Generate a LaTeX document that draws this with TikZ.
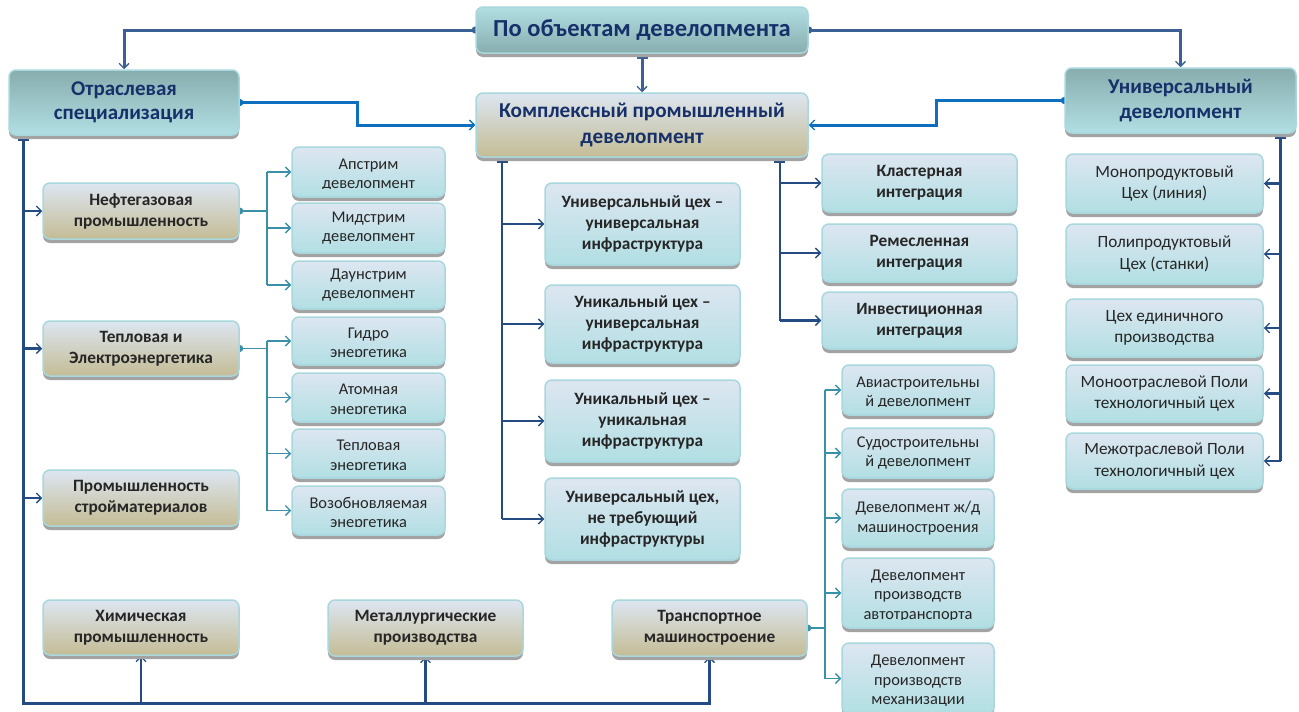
\documentclass[tikz,border=0pt]{standalone}
\usepackage{fontspec}
\setmainfont{Carlito}
\usetikzlibrary{arrows.meta,shadows,calc}
\pgfdeclarelayer{bg}
\pgfsetlayers{bg,main}

\definecolor{navy}{HTML}{17306A}
\definecolor{inktxt}{HTML}{262626}
\definecolor{cyanlt}{HTML}{B1DFE3}
\definecolor{tealgr}{HTML}{88ADAE}
\definecolor{bluegr}{HTML}{DDE6F1}
\definecolor{tanbot}{HTML}{C4BC95}
\definecolor{rim}{HTML}{A8D7DD}
\definecolor{steel}{HTML}{3A6096}
\definecolor{brightblue}{HTML}{0E6FBE}
\definecolor{darkblue}{HTML}{244B82}
\definecolor{tealline}{HTML}{3A91A7}

\tikzset{
  box/.style={draw=rim, line width=1.5pt, rounded corners=7pt, align=center,
    inner sep=2pt,
    drop shadow={shadow xshift=0pt, shadow yshift=-4pt, fill=black!36, opacity=1}},
  headA/.style={box, top color=cyanlt, bottom color=tealgr, text=navy,
    font=\bfseries\fontsize{24.5}{28}\selectfont},
  headB/.style={box, top color=tealgr, bottom color=cyanlt, text=navy,
    font=\bfseries\fontsize{21}{24.5}\selectfont},
  hub/.style={box, top color=bluegr, bottom color=tanbot, text=navy,
    font=\bfseries\fontsize{21.2}{26}\selectfont},
  branch/.style={box, top color=bluegr, bottom color=tanbot, text=inktxt,
    font=\bfseries\fontsize{17.3}{21}\selectfont},
  leafb/.style={box, top color=bluegr, bottom color=cyanlt, text=inktxt,
    font=\bfseries\fontsize{17.3}{21}\selectfont},
  leafn/.style={box, top color=bluegr, bottom color=cyanlt, text=inktxt,
    font=\fontsize{16.4}{19.5}\selectfont},
  leafr/.style={box, top color=bluegr, bottom color=cyanlt, text=inktxt,
    font=\fontsize{17.2}{21.5}\selectfont},
  leaftext/.style={align=center, inner sep=0pt, text=inktxt,
    font=\fontsize{16.4}{19.5}\selectfont},
  tip/.style={-{Straight Barb[length=5pt,width=10pt,line width=1.3pt]}},
  dot/.style={{Circle[length=7pt,width=7pt]}-, shorten <=-3.5pt},
  dottip/.style={{Circle[length=7pt,width=7pt]}-{Straight Barb[length=5pt,width=10pt,line width=1.3pt]}, shorten <=-3.5pt},
  bar/.style={{Rectangle[length=5pt,width=11pt]}-},
  bartip/.style={{Rectangle[length=5pt,width=11pt]}-{Straight Barb[length=5pt,width=10pt,line width=1.3pt]}},
  steelline/.style={draw=steel, line width=3pt},
  blueline/.style={draw=brightblue, line width=3pt},
  darkline/.style={draw=darkblue, line width=2.8pt},
  midline/.style={draw=darkblue, line width=2.3pt},
  tline/.style={draw=tealline, line width=1.5pt},
}

% leaf box whose second line of text is cut by the box
\newcommand\clipleaf[5]{%
  \node[leafn, minimum width=#3, minimum height=#4] (#1) at (#2) {};
  \begin{scope}
    \clip ($(#1.north west)+(3,2)$) rectangle ($(#1.south east)+(-3,-9)$);
    \node[leaftext] (#1-t) at ($(#1.center)+(0,3)$) {#5};
  \end{scope}}

\begin{document}
\begin{tikzpicture}[x=1pt,y=-1pt]
\useasboundingbox (0,0) rectangle (1299,712);

% ---- level 0 / level 1
\node[headA, minimum width=332pt, minimum height=46pt] (top) at (642,30) {По объектам девелопмента};
\node[hub, minimum width=332pt, minimum height=64pt] (kom) at (642,125) {Комплексный промышленный\\девелопмент};
\node[headB, minimum width=230pt, minimum height=65pt] (otr) at (124,102.5) {Отраслевая\\специализация};
\node[headB, minimum width=231pt, minimum height=65pt] (univ) at (1180.5,100.5) {Универсальный\\девелопмент};

% ---- industries
\node[branch, minimum width=196pt, minimum height=56pt] (neft) at (141,211) {Нефтегазовая\\промышленность};
\node[branch, minimum width=196pt, minimum height=55pt] (teplo) at (141,348.5) {Тепловая и\\Электроэнергетика};
\node[branch, minimum width=196pt, minimum height=56pt] (stroy) at (141,498) {Промышленность\\стройматериалов};
\node[branch, minimum width=196pt, minimum height=55pt] (him) at (141,627.5) {Химическая\\промышленность};
\node[branch, minimum width=195pt, minimum height=56pt] (metal) at (425.5,628) {Металлургические\\производства};
\node[branch, minimum width=195pt, minimum height=56pt] (trp) at (709.5,628) {Транспортное\\машиностроение};

% ---- oil & gas, energy
\clipleaf{ap}{368.5,172}{153pt}{50pt}{Апстрим\\девелопмент}
\node[leafn, minimum width=153pt, minimum height=50pt] (mid) at (368.5,228) {Мидстрим\\девелопмент};
\node[leafn, minimum width=153pt, minimum height=48pt] (daun) at (368.5,285) {Даунстрим\\девелопмент};
\clipleaf{gidro}{368.5,341}{153pt}{48pt}{Гидро\\энергетика}
\clipleaf{atom}{368.5,397.5}{153pt}{49pt}{Атомная\\энергетика}
\clipleaf{tepl}{368.5,453.5}{153pt}{49pt}{Тепловая\\энергетика}
\clipleaf{vozob}{368.5,510.5}{153pt}{49pt}{Возобновляемая\\энергетика}

% ---- workshop / infrastructure types
\node[leafb, minimum width=195pt, minimum height=82pt] (m1) at (642.5,224) {Универсальный цех --\\универсальная\\инфраструктура};
\node[leafb, minimum width=195pt, minimum height=78pt] (m2) at (642.5,324) {Уникальный цех --\\универсальная\\инфраструктура};
\node[leafb, minimum width=195pt, minimum height=82pt] (m3) at (642.5,421) {Уникальный цех --\\уникальная\\инфраструктура};
\node[leafb, minimum width=195pt, minimum height=82pt] (m4) at (642.5,519) {Универсальный цех,\\не требующий\\инфраструктуры};

% ---- integration
\node[leafb, minimum width=195pt, minimum height=58pt] (kl) at (919.5,183) {Кластерная\\интеграция};
\node[leafb, minimum width=195pt, minimum height=58pt] (rem) at (919.5,253) {Ремесленная\\интеграция};
\node[leafb, minimum width=195pt, minimum height=57pt] (inv) at (919.5,320.5) {Инвестиционная\\интеграция};

% ---- universal development
\node[leafr, minimum width=197pt, minimum height=59pt] (mono) at (1164.5,183.5) {Монопродуктовый\\Цех (линия)};
\node[leafr, minimum width=197pt, minimum height=60pt] (poly) at (1164.5,254) {Полипродуктовый\\Цех (станки)};
\node[leafr, minimum width=197pt, minimum height=58pt] (ceh) at (1164.5,328) {Цех единичного\\производства};
\node[leafr, minimum width=197pt, minimum height=57pt] (monoo) at (1164.5,393.5) {Моноотраслевой Поли\\технологичный цех};
\node[leafr, minimum width=197pt, minimum height=56pt] (mezh) at (1164.5,461) {Межотраслевой Поли\\технологичный цех};

% ---- transport engineering
\clipleaf{avia}{918,390}{152pt}{50pt}{Авиастроительны\\й девелопмент}
\node[leafn, minimum width=152pt, minimum height=50pt] (sudo) at (918,453) {Судостроительны\\й девелопмент};
\node[leafn, minimum width=152pt, minimum height=58pt] (zhd) at (918,518) {Девелопмент ж/д\\машиностроения};
\clipleaf{avto}{918,593}{152pt}{70pt}{Девелопмент\\производств\\автотранспорта}
\clipleaf{mech}{918,678.5}{152pt}{71pt}{Девелопмент\\производств\\механизации}

% ---- connectors
\begin{pgfonlayer}{bg}
  \draw[steelline, dottip] (top.west) -| (otr.north);
  \draw[steelline, dottip] (top.east) -| (univ.north);
  \draw[steelline, bartip] (top.south) -- (kom.north);

  \draw[blueline, dottip] (otr.east) -| ($(otr.east)!0.5!(kom.west)$) |- (kom.west);
  \draw[blueline, dottip] (univ.west) -| ($(univ.west)!0.5!(kom.east)$) |- (kom.east);

  % industry trunk
  \coordinate (tl) at ($(otr.south west)+(15,0)$);
  \coordinate (fl) at ($(trp.south)+(0,47)$);
  \draw[darkline, bartip] (tl) |- (fl) -- (trp.south);
  \draw[darkline, tip] (tl |- fl) -| (him.south);
  \draw[darkline, tip] (tl |- fl) -| (metal.south);
  \draw[darkline, tip] (tl |- neft.west) -- (neft.west);
  \draw[darkline, tip] (tl |- teplo.west) -- (teplo.west);
  \draw[darkline, tip] (tl |- stroy.west) -- (stroy.west);

  % oil & gas branches
  \coordinate (nj) at ($(neft.east)+(27,0)$);
  \draw[tline, dot] (neft.east) -- (nj);
  \draw[tline] (nj |- ap.west) -- (nj |- daun.west);
  \foreach \t in {ap,mid,daun} \draw[tline, tip] (nj |- \t.west) -- (\t.west);

  % energy branches
  \coordinate (ej) at ($(teplo.east)+(27,0)$);
  \draw[tline, dot] (teplo.east) -- (ej);
  \draw[tline] (ej |- gidro.west) -- (ej |- vozob.west);
  \foreach \t in {gidro,atom,tepl,vozob} \draw[tline, tip] (ej |- \t.west) -- (\t.west);

  % complex development: workshop types
  \coordinate (kl0) at ($(kom.south west)+(27,0)$);
  \draw[midline, bar] (kl0) -- (kl0 |- m4.west);
  \foreach \t in {m1,m2,m3,m4} \draw[midline, tip] (kl0 |- \t.west) -- (\t.west);

  % complex development: integration
  \coordinate (kr0) at ($(kom.south east)+(-29,0)$);
  \draw[midline, bar] (kr0) -- (kr0 |- inv.west);
  \foreach \t in {kl,rem,inv} \draw[midline, tip] (kr0 |- \t.west) -- (\t.west);

  % universal development
  \coordinate (u0) at ($(univ.south east)+(-16,0)$);
  \draw[darkline, bar] (u0) -- (u0 |- mezh.east);
  \foreach \t in {mono,poly,ceh,monoo,mezh} \draw[darkline, tip] (u0 |- \t.east) -- (\t.east);

  % transport branches
  \coordinate (tj) at ($(trp.east)+(17,0)$);
  \draw[tline, dot] (trp.east) -- (tj);
  \draw[tline] (tj |- avia.west) -- (tj |- mech.west);
  \foreach \t in {avia,sudo,zhd,avto,mech} \draw[tline, tip] (tj |- \t.west) -- (\t.west);
\end{pgfonlayer}
\end{tikzpicture}
\end{document}
